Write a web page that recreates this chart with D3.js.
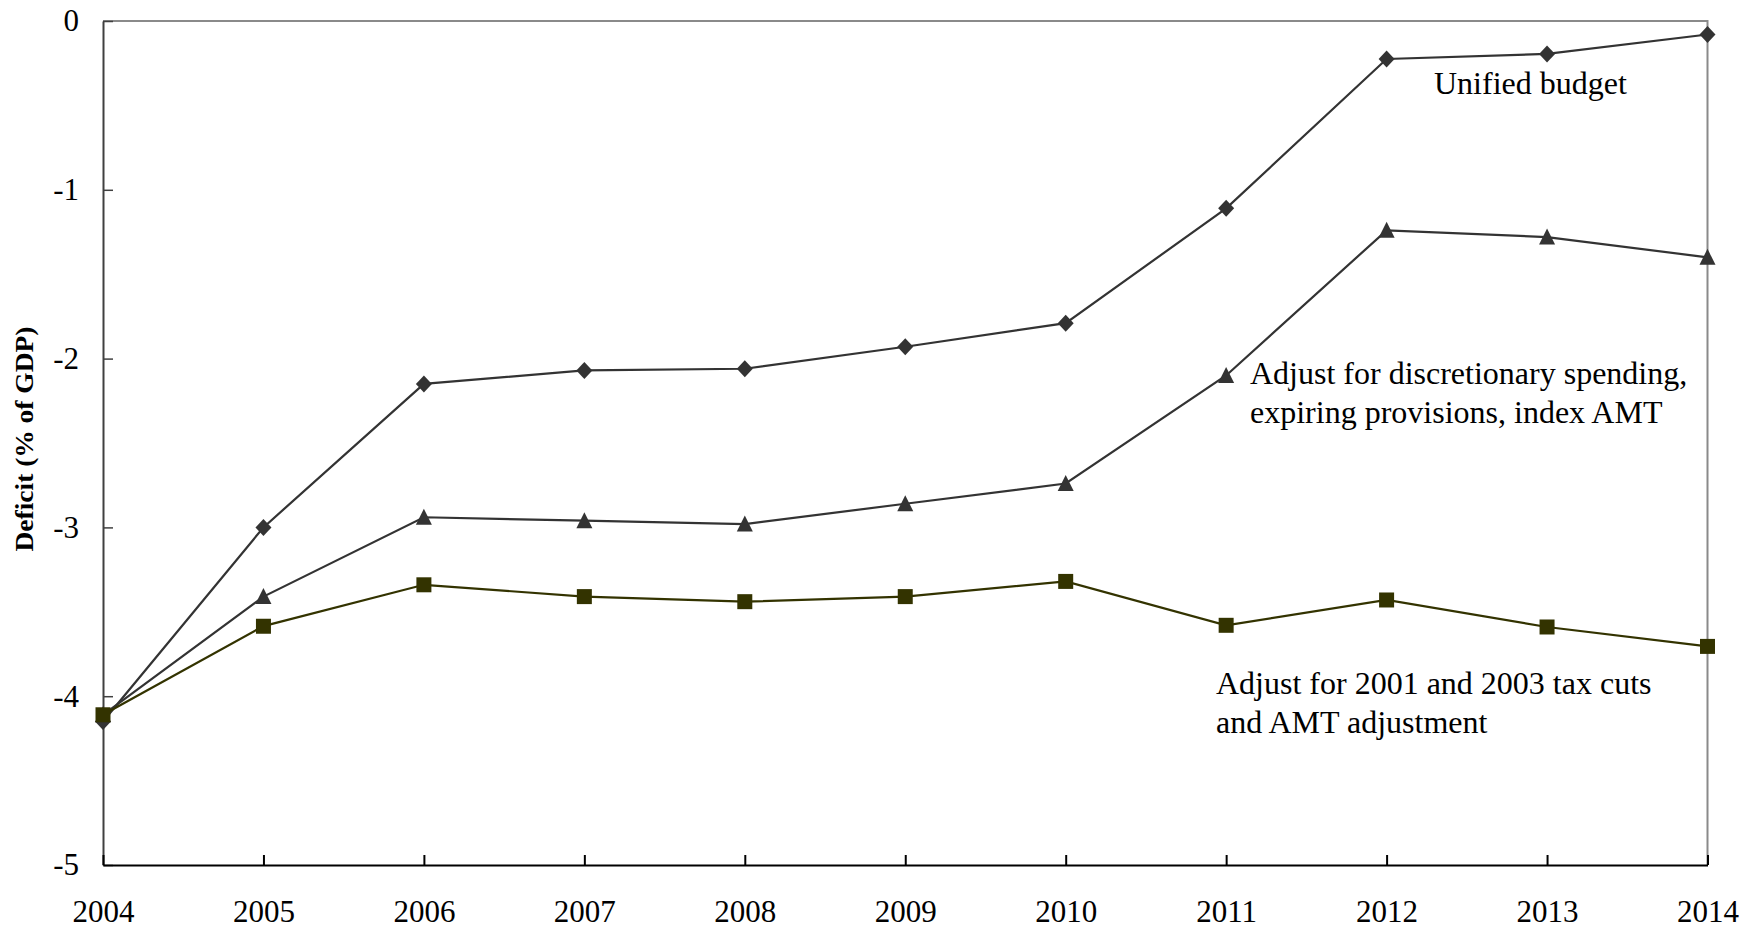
<!DOCTYPE html>
<html>
<head>
<meta charset="utf-8">
<script src="https://cdn.jsdelivr.net/npm/d3@7"></script>
<style>
  html, body { margin: 0; padding: 0; background: #fff; }
  svg { display: block; }
  text { font-family: "Liberation Serif", "Times New Roman", serif; fill: #000; }
</style>
</head>
<body>
<svg id="chart" width="1760" height="929"></svg>
<script>
// ---- data ----
const years = [2004, 2005, 2006, 2007, 2008, 2009, 2010, 2011, 2012, 2013, 2014];
const unifiedBudget = [-4.15, -3.00, -2.15, -2.07, -2.06, -1.93, -1.79, -1.11, -0.225, -0.195, -0.08];
const adjustDiscretionary = [-4.11, -3.41, -2.94, -2.96, -2.98, -2.86, -2.74, -2.10, -1.24, -1.28, -1.40];
const adjustTaxCuts = [-4.11, -3.585, -3.34, -3.41, -3.44, -3.41, -3.32, -3.58, -3.43, -3.59, -3.705];
const yTicks = [0, -1, -2, -3, -4, -5];
const yTitle = "Deficit (% of GDP)";
const labelUnified = ["Unified budget"];
const labelDiscretionary = ["Adjust for discretionary spending,", "expiring provisions, index AMT"];
const labelTaxCuts = ["Adjust for 2001 and 2003 tax cuts", "and AMT adjustment"];

// ---- layout ----
const svg = d3.select("#chart");
const L = 103, R = 1707.5, T = 21, B = 865;

const x = d3.scaleLinear().domain([2004, 2014]).range([L, R]);
const y = d3.scaleLinear().domain([-5, 0]).range([B, T]);

// frame: top & right borders (gray)
svg.append("path")
  .attr("d", `M${L},${T}H${R}V${B}`)
  .attr("fill", "none").attr("stroke", "#8a8a8a").attr("stroke-width", 2);

// y axis
const yAxis = svg.append("g").attr("transform", `translate(${L},0)`)
  .call(d3.axisLeft(y).tickValues(yTicks).tickSizeInner(-10).tickSizeOuter(0).tickPadding(24).tickFormat(d => String(d)));
yAxis.select(".domain").attr("stroke", "#404040").attr("stroke-width", 2);
yAxis.selectAll(".tick line").attr("stroke", "#404040").attr("stroke-width", 1.5);
yAxis.selectAll(".tick text").attr("font-size", 31).attr("font-family", "Liberation Serif").attr("fill", "#000");

// x axis
const xAxis = svg.append("g").attr("transform", `translate(0,${B})`)
  .call(d3.axisBottom(x).tickValues(years).tickSizeInner(-10).tickSizeOuter(0).tickPadding(35).tickFormat(d => String(d)));
xAxis.select(".domain").attr("stroke", "#000").attr("stroke-width", 2);
xAxis.selectAll(".tick line").attr("stroke", "#000").attr("stroke-width", 2);
xAxis.selectAll(".tick text").attr("font-size", 31).attr("font-family", "Liberation Serif").attr("fill", "#000");

// y title
svg.append("text")
  .attr("transform", `translate(33,439) rotate(-90)`)
  .attr("text-anchor", "middle")
  .attr("font-weight", "bold")
  .attr("font-size", 25)
  .attr("textLength", 225)
  .attr("lengthAdjust", "spacingAndGlyphs")
  .text(yTitle);

// ---- series ----
const line = d3.line().x((d, i) => x(years[i])).y(d => y(d));

const markers = {
  diamond: (cx, cy) => `M${cx},${cy - 8.5}L${cx + 8},${cy}L${cx},${cy + 8.5}L${cx - 8},${cy}Z`,
  triangle: (cx, cy) => `M${cx},${cy - 8.5}L${cx + 8},${cy + 7.5}L${cx - 8},${cy + 7.5}Z`,
  square: (cx, cy) => `M${cx - 7.5},${cy - 7.5}h15v15h-15Z`
};

const series = [
  { values: unifiedBudget, color: "#333333", marker: "diamond" },
  { values: adjustDiscretionary, color: "#333333", marker: "triangle" },
  { values: adjustTaxCuts, color: "#333300", marker: "square" }
];

series.forEach(s => {
  const g = svg.append("g");
  g.append("path").datum(s.values)
    .attr("d", line).attr("fill", "none")
    .attr("stroke", s.color).attr("stroke-width", 2.2);
  g.selectAll("path.m").data(s.values).join("path")
    .attr("class", "m")
    .attr("d", (d, i) => markers[s.marker](x(years[i]), y(d)))
    .attr("fill", s.color);
});

// ---- annotations ----
function label(lines, lx, ly, spacing) {
  const t = svg.append("text").attr("font-size", 32).attr("x", lx).attr("y", ly);
  lines.forEach((ln, i) => {
    t.append("tspan").attr("x", lx).attr("y", ly + i * spacing).text(ln);
  });
}
label(labelUnified, 1434, 94, 39);
label(labelDiscretionary, 1250, 383.5, 39);
label(labelTaxCuts, 1216, 694, 39);
</script>
</body>
</html>
